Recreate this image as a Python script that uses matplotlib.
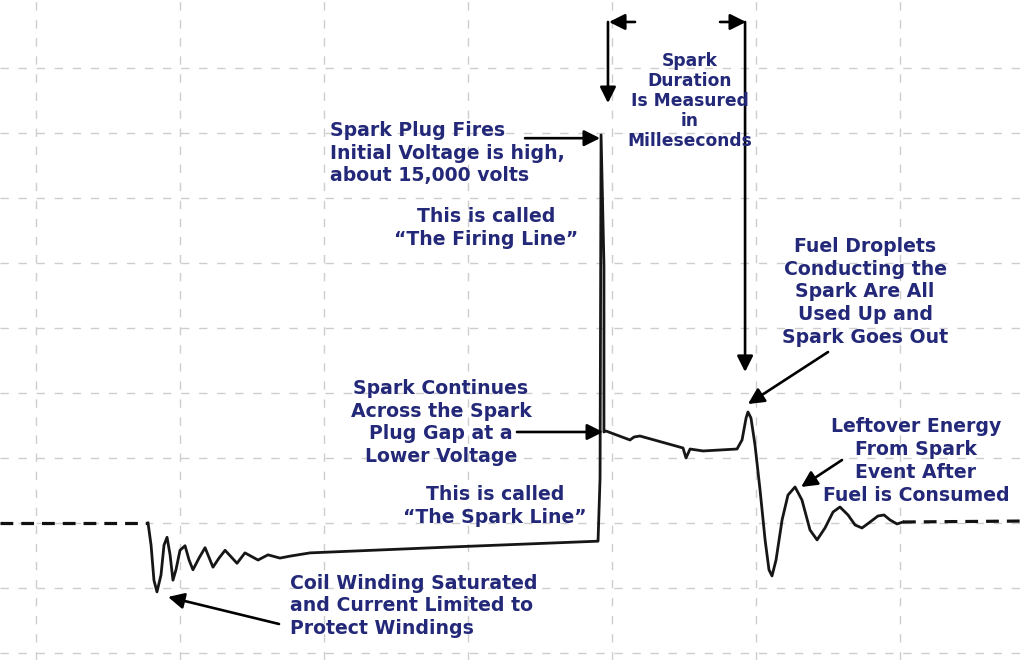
import matplotlib.pyplot as plt

# time in grid divisions, voltage in grid divisions (0 = baseline)
pre_t = [-0.25, 0.778]
pre_v = [0.0, 0.0]

trace_t = [0.778, 0.799, 0.819, 0.840, 0.868, 0.889, 0.910, 0.931, 0.951, 0.972,
           1.000, 1.035, 1.063, 1.090, 1.132, 1.174, 1.229, 1.271, 1.313, 1.396,
           1.451, 1.542, 1.611, 1.694, 1.764, 1.903, 2.875, 3.903, 3.917, 3.924,
           3.944, 3.944, 3.958, 4.125, 4.153, 4.194, 4.493, 4.514, 4.542, 4.632,
           4.868, 4.903, 4.931, 4.944, 4.965, 4.993, 5.028, 5.063, 5.090, 5.111,
           5.139, 5.181, 5.222, 5.271, 5.319, 5.375, 5.424, 5.479, 5.535, 5.583,
           5.639, 5.688, 5.736, 5.792, 5.847, 5.889, 5.931, 5.979, 6.021]
trace_v = [0.0, -0.34, -0.88, -1.06, -0.80, -0.34, -0.22, -0.49, -0.88, -0.72,
           -0.42, -0.35, -0.57, -0.72, -0.54, -0.38, -0.68, -0.54, -0.42, -0.62,
           -0.46, -0.57, -0.49, -0.54, -0.51, -0.46, -0.37, -0.28, 0.69, 5.97,
           3.97, 1.40, 1.415, 1.277, 1.323, 1.338, 1.154, 1.0, 1.138, 1.108,
           1.138, 1.277, 1.615, 1.708, 1.615, 1.2, 0.508, -0.26, -0.72, -0.815,
           -0.57, 0.046, 0.43, 0.554, 0.354, -0.108, -0.26, -0.077, 0.169, 0.246,
           0.123, -0.031, -0.077, 0.015, 0.108, 0.123, 0.046, -0.015, 0.015]

post_t = [6.021, 6.861]
post_v = [0.015, 0.03]

navy = '#232878'

fig = plt.figure(figsize=(10.24, 6.6), dpi=100)
ax = fig.add_axes([0, 0, 1, 1])
ax.set_xlim(-0.25, 6.861)
ax.set_ylim(-2.108, 8.046)

ax.set_xticks(range(0, 7))
ax.set_yticks(range(-2, 8))
ax.grid(True, color='#cdcdcd', linestyle=(0, (6, 7)), linewidth=1)
ax.tick_params(length=0, labelbottom=False, labelleft=False)
for s in ax.spines.values():
    s.set_visible(False)

ax.plot(pre_t, pre_v, color='#111111', lw=2.3, linestyle=(0, (4, 2.5)))
ax.plot(trace_t, trace_v, color='#161616', lw=2.0)
ax.plot(post_t, post_v, color='#111111', lw=2.3, linestyle=(0, (4, 2.5)))

arr = dict(arrowstyle='-|>', color='black', lw=1.9, mutation_scale=24, shrinkA=0, shrinkB=0)

# spark duration bracket
ax.annotate('', xy=(3.979, 7.708), xytext=(4.160, 7.708), arrowprops=arr)
ax.annotate('', xy=(4.931, 7.708), xytext=(4.750, 7.708), arrowprops=arr)
ax.annotate('', xy=(3.972, 6.46), xytext=(3.972, 7.708), arrowprops=arr)
ax.annotate('', xy=(4.924, 2.323), xytext=(4.924, 7.708), arrowprops=arr)

ax.annotate('', xy=(3.917, 5.92), xytext=(3.396, 5.92), arrowprops=arr)
ax.annotate('', xy=(3.938, 1.40), xytext=(3.340, 1.40), arrowprops=arr)
ax.annotate('', xy=(4.944, 1.83), xytext=(5.5, 2.63), arrowprops=arr)
ax.annotate('', xy=(5.313, 0.554), xytext=(5.597, 0.969), arrowprops=arr)
ax.annotate('', xy=(0.917, -1.138), xytext=(1.6875, -1.554), arrowprops=arr)

tk = dict(color=navy, fontsize=13.6, fontweight='bold', family='DejaVu Sans', linespacing=1.25)

ax.text(4.542, 6.49, 'Spark\nDuration\nIs Measured\nin\nMilleseconds',
        ha='center', va='center', **{**tk, 'fontsize': 12.3, 'linespacing': 1.15})
ax.text(2.042, 5.69, 'Spark Plug Fires\nInitial Voltage is high,\nabout 15,000 volts',
        ha='left', va='center', multialignment='left', **tk)
ax.text(3.125, 4.54, 'This is called\n\u201cThe Firing Line\u201d', ha='center', va='center', **tk)
ax.text(2.8125, 1.546, 'Spark Continues\nAcross the Spark\nPlug Gap at a\nLower Voltage',
        ha='center', va='center', **tk)
ax.text(3.1875, 0.26, 'This is called\n\u201cThe Spark Line\u201d', ha='center', va='center', **tk)
ax.text(5.757, 3.554, 'Fuel Droplets\nConducting the\nSpark Are All\nUsed Up and\nSpark Goes Out',
        ha='center', va='center', **tk)
ax.text(6.111, 0.954, 'Leftover Energy\nFrom Spark\nEvent After\nFuel is Consumed',
        ha='center', va='center', **tk)
ax.text(1.764, -1.277, 'Coil Winding Saturated\nand Current Limited to\nProtect Windings',
        ha='left', va='center', multialignment='left', **tk)

fig.savefig('out.png', dpi=100, facecolor='white')
